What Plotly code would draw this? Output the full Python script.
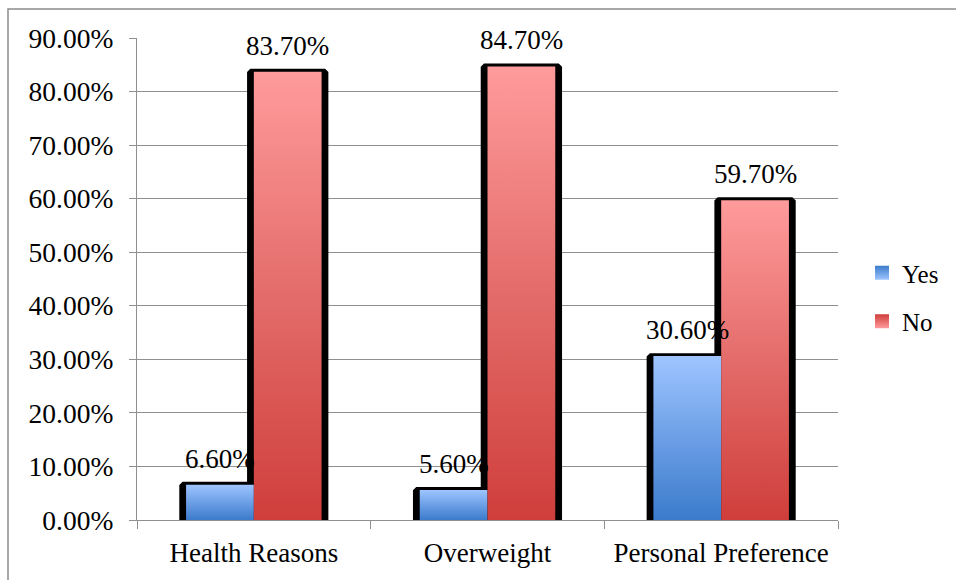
import plotly.graph_objects as go

# ---- data -------------------------------------------------------------
categories = ["Health Reasons", "Overweight", "Personal Preference"]
series_names = ["Yes", "No"]
yes_values = [6.6, 5.6, 30.6]
no_values = [83.7, 84.7, 59.7]
y_tick_values = [0, 10, 20, 30, 40, 50, 60, 70, 80, 90]
y_tick_labels = [f"{v:.2f}%" for v in y_tick_values]

# ---- styling ----------------------------------------------------------
FONT = "Liberation Serif"
GRID = "#8f8f8f"
BAR_W = 0.29          # width of one bar in category units
SH_DX = 0.029         # shadow spill left/right (category units)
SH_DY = 0.55          # shadow spill above the bar (axis units)
BEV_X = 0.014
BEV_Y = 0.6

series_styles = {
    "Yes": dict(scale=[[0, "#3b7bcb"], [0.5, "#6c9fe6"], [1, "#9ec5ff"]],
                dark="#3b7bcb", light="#9ec5ff"),
    "No": dict(scale=[[0, "#cf3e3b"], [0.5, "#e36c6a"], [1, "#ff9b9b"]],
               dark="#cf3e3b", light="#ff9b9b"),
}

series_values = {"Yes": yes_values, "No": no_values}
offsets = {"Yes": (-BAR_W, 0.0), "No": (0.0, BAR_W)}

fig = go.Figure()

# bar extents derived from the category index and the values
bars = []
for name in series_names:
    lo, hi = offsets[name]
    for i, v in enumerate(series_values[name]):
        bars.append((name, i + lo, i + hi, v))

# black drop-shadow outlines, drawn first so every bar sits above them
for name, x0, x1, v in bars:
    xs = [x0 - SH_DX, x0 - SH_DX, x0 - SH_DX + BEV_X, x1 + SH_DX - BEV_X,
          x1 + SH_DX, x1 + SH_DX, x0 - SH_DX]
    ys = [-1, v + SH_DY - BEV_Y, v + SH_DY, v + SH_DY,
          v + SH_DY - BEV_Y, -1, -1]
    fig.add_trace(go.Scatter(x=xs, y=ys, mode="lines", fill="toself",
                             fillcolor="#000000", line=dict(width=0),
                             hoverinfo="skip", showlegend=False))

# gradient-filled bars
for name, x0, x1, v in bars:
    st = series_styles[name]
    fig.add_trace(go.Scatter(
        x=[x0, x0, x1, x1, x0], y=[0, v, v, 0, 0], mode="lines",
        fill="toself", line=dict(width=0),
        fillgradient=dict(type="vertical", colorscale=st["scale"], start=0, stop=v),
        hoverinfo="skip", showlegend=False, name=name))

# legend swatches
for name in series_names:
    st = series_styles[name]
    fig.add_trace(go.Scatter(
        x=[None], y=[None], mode="markers", name=name, legendgroup=name,
        marker=dict(symbol="square", size=14, color=st["dark"],
                    gradient=dict(type="vertical", color=st["light"]),
                    line=dict(width=0))))

# value labels above each bar
annotations = []
for name, x0, x1, v in bars:
    annotations.append(dict(
        x=(x0 + x1) / 2, y=v, xref="x", yref="y", text=f"{v:.2f}%",
        showarrow=False, yanchor="bottom", yshift=9,
        font=dict(family=FONT, size=27, color="#000000")))

# outer chart border (right and bottom edges fall outside the canvas)
L, R, T, B = 137, 118, 38, 60
PW, PH = 956 - L - R, 580 - T - B
shapes = [dict(type="rect", xref="paper", yref="paper",
               x0=(8 - L) / PW, x1=(975 - L) / PW,
               y0=-(600 - (580 - B)) / PH, y1=(580 - B - 9) / PH,
               line=dict(color="#8c8c8c", width=1.5), fillcolor="rgba(0,0,0,0)",
               layer="below")]

fig.update_layout(
    width=956, height=580,
    margin=dict(l=L, r=R, t=T, b=B, autoexpand=False),
    paper_bgcolor="white", plot_bgcolor="white",
    font=dict(family=FONT, size=27, color="#000000"),
    showlegend=True,
    legend=dict(x=(862 - L) / PW, xanchor="left", y=(580 - B - 297) / PH,
                yanchor="middle", font=dict(family=FONT, size=25),
                tracegroupgap=13, bgcolor="rgba(0,0,0,0)", itemwidth=30),
    annotations=annotations,
    shapes=shapes,
    xaxis=dict(range=[-0.5, 2.5], tickmode="array", tickvals=[0, 1, 2],
               ticktext=categories, ticks="", showgrid=False, zeroline=False,
               showline=True, linecolor=GRID, linewidth=1.3,
               ticklabelstandoff=8, automargin=False,
               tickfont=dict(family=FONT, size=27),
               minor=dict(tickmode="array", tickvals=[-0.5, 0.5, 1.5, 2.5],
                          ticks="outside", ticklen=8, tickcolor=GRID,
                          tickwidth=1.3, showgrid=False)),
    yaxis=dict(range=[0, 90], tickmode="array", tickvals=y_tick_values,
               ticktext=y_tick_labels, ticks="outside", ticklen=7,
               tickcolor=GRID, tickwidth=1.3, showgrid=True, gridcolor=GRID,
               gridwidth=1.3, zeroline=False, showline=True, linecolor=GRID,
               linewidth=1.3, ticklabelstandoff=10, automargin=False,
               tickfont=dict(family=FONT, size=27.5)),
)

fig.write_html("out.html")
